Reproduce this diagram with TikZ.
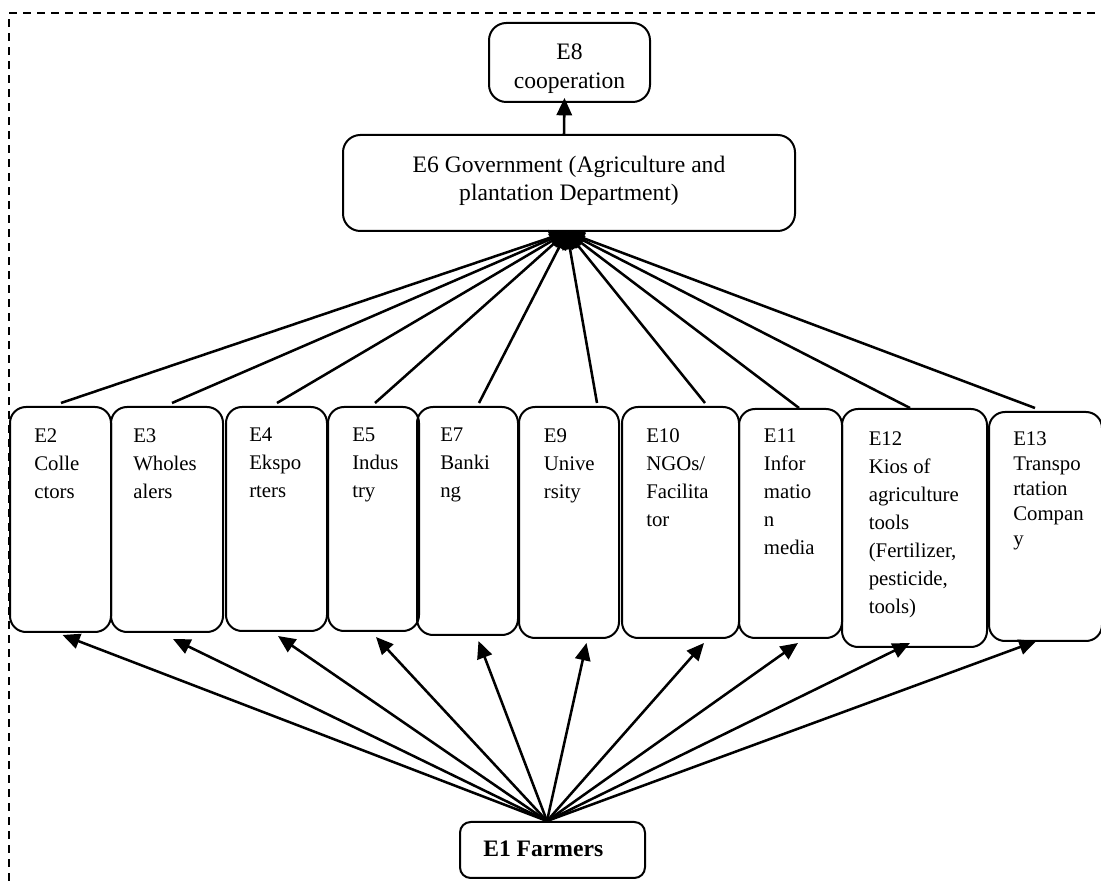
\documentclass[tikz,border=0pt]{standalone}
\usepackage{fontspec}
\setmainfont{Liberation Serif}
\usetikzlibrary{arrows.meta,fit,calc}
\begin{document}
\begin{tikzpicture}[x=0.75pt,y=-0.75pt,
  box/.style={draw, line width=1.5pt, rounded corners=12pt, inner sep=0pt},
  bigbox/.style={draw, line width=1.5pt, rounded corners=13pt, inner sep=0pt},
  btext/.style={anchor=north west, inner sep=0pt, align=left, font=\fontsize{15.6}{21}\selectfont},
  bigtext/.style={anchor=north, inner sep=0pt, align=center},
  conn/.style={line width=1.9pt, -{Triangle[length=13pt,width=11.5pt]}},
  dashframe/.style={line width=1.5pt, dash pattern=on 6pt off 4.5pt}
]
\useasboundingbox (0,0) rectangle (1101,887);
% frame (only top and left edges visible)
\draw[dashframe] (9,895) -- (9,13) -- (1110,13);

% top boxes
\node[bigbox, fit={(489,23) (650,102)}] (e8) {};
\node[bigtext, font=\fontsize{17.7}{21.75}\selectfont] (e8t) at (569.5,44) {E8\\cooperation};
\node[bigbox, fit={(343,135) (795,231)}] (e6) {};
\node[bigtext, font=\fontsize{17.7}{21}\selectfont] (e6t) at (569,156) {E6 Government (Agriculture and\\plantation Department)};

% middle row
\node[box, fit={(10,407) (111,632)}] (e2) {};
\node[box, fit={(111,407) (223,632)}] (e3) {};
\node[box, fit={(226,407) (327,631)}] (e4) {};
\node[box, fit={(328,407) (419,631)}] (e5) {};
\node[box, fit={(417,407) (518,635)}] (e7) {};
\node[box, fit={(519,407) (619,638)}] (e9) {};
\node[box, fit={(622,407) (739,638)}] (e10) {};
\node[box, fit={(739,409) (842,638)}] (e11) {};
\node[box, fit={(842,409) (987,647)}] (e12) {};
\node[box, fit={(989,412) (1102,641)}] (e13) {};

\node[btext] (e2t) at (34,428) {E2\\Colle\\ctors};
\node[btext] (e3t) at (133,428) {E3\\Wholes\\alers};
\node[btext] (e4t) at (249,428) {E4\\Ekspo\\rters};
\node[btext] (e5t) at (352,428) {E5\\Indus\\try};
\node[btext] (e7t) at (440,428) {E7\\Banki\\ng};
\node[btext] (e9t) at (543.6,428) {E9\\Unive\\rsity};
\node[btext] (e10t) at (646,428) {E10\\NGOs/\\Facilita\\tor};
\node[btext] (e11t) at (763.6,429) {E11\\Infor\\matio\\n\\media};
\node[btext] (e12t) at (868.5,431) {E12\\Kios of\\agriculture\\tools\\(Fertilizer,\\pesticide,\\tools)};
\node[btext, font=\fontsize{15.6}{18.75}\selectfont] (e13t) at (1013,431) {E13\\Transpo\\rtation\\Compan\\y};

% bottom box
\node[box, rounded corners=8pt, fit={(460,822) (645,878)}] (e1) {};
\node[anchor=base west, inner sep=0pt, font=\fontsize{17.7}{21}\selectfont\bfseries] (e1t) at (483,857) {E1 Farmers};

\coordinate (govin) at ($(e6.south)+(-2,0)$);
\coordinate (src) at ($(e1.north)+(-5.5,0)$);

% E6 -> E8
\draw[conn] ($(e6.north)+(-5,0)$) -- ($(e8.south)+(-5,-5)$);

% row -> E6
\draw[conn] ($(e2.north)+(0.5,-3)$) -- (govin);
\draw[conn] ($(e3.north)+(5,-3)$) -- (govin);
\draw[conn] ($(e4.north)+(0.5,-3)$) -- (govin);
\draw[conn] ($(e5.north)+(1.5,-3)$) -- (govin);
\draw[conn] ($(e7.north)+(11.5,-3)$) -- (govin);
\draw[conn] ($(e9.north)+(28,-3)$) -- (govin);
\draw[conn] ($(e10.north)+(24.5,-3)$) -- (govin);
\draw[conn] ($(e11.north)+(8.5,0)$) -- (govin);
\draw[conn] ($(e12.north)+(-4.5,0)$) -- (govin);
\draw[conn] ($(e13.north)+(-10.5,-3)$) -- (govin);

% E1 -> row
\draw[conn] (src) -- ($(e2.south)+(2,2)$);
\draw[conn] (src) -- ($(e3.south)+(6,6)$);
\draw[conn] (src) -- ($(e4.south)+(1.5,4)$);
\draw[conn] (src) -- ($(e5.south)+(2.5,5)$);
\draw[conn] (src) -- ($(e7.south)+(11,5)$);
\draw[conn] (src) -- ($(e9.south)+(17.5,4)$);
\draw[conn] (src) -- ($(e10.south)+(23.5,4)$);
\draw[conn] (src) -- ($(e11.south)+(7.5,4)$);
\draw[conn] (src) -- ($(e12.south)+(-4.5,-5)$);
\draw[conn] (src) -- ($(e13.south)+(-9,-1)$);
\end{tikzpicture}
\end{document}
